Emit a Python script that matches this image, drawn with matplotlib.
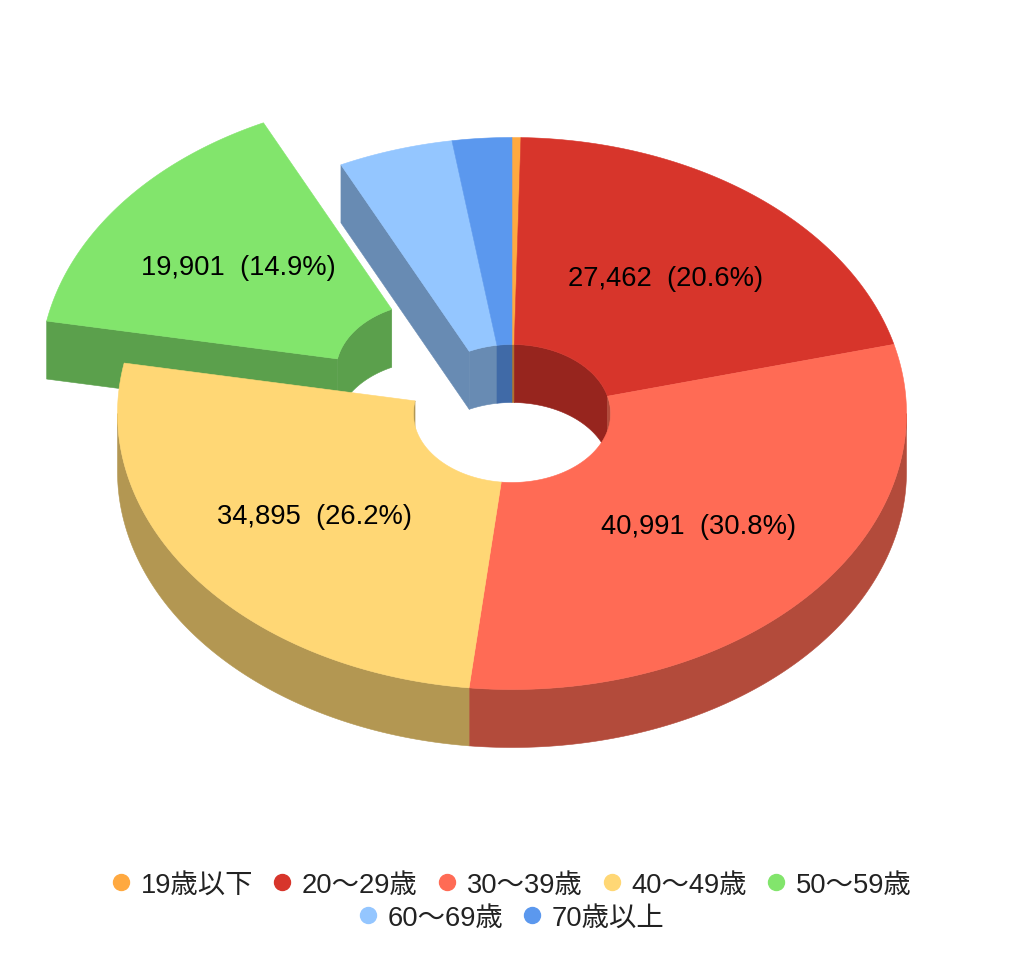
import numpy as np
import matplotlib as mpl
mpl.use('Agg')
import matplotlib.pyplot as plt
from matplotlib.lines import Line2D

plt.rcParams['font.family'] = ['Liberation Sans', 'Noto Sans CJK JP']

categories = ["19歳以下", "20〜29歳", "30〜39歳", "40〜49歳", "50〜59歳", "60〜69歳", "70歳以上"]
values = [480, 27462, 40991, 34895, 19901, 6270, 3240]
labels = [None, "27,462  (20.6%)", "40,991  (30.8%)", "34,895  (26.2%)", "19,901  (14.9%)", None, None]
colors = ["#FFA940", "#D7352B", "#FF6B55", "#FFD775", "#82E56C", "#94C6FF", "#5B98EE"]

# pie geometry, in pixels of the 1024x979 canvas
cx, cy = 512, 414.5
rx, ry = 394.5, 276
hole = 0.25
depth = 58
explode_dx, explode_dy = -77.5, -42
exploded = 4
shade = 0.7


def dark(c):
    return tuple(shade * v for v in mpl.colors.to_rgb(c))


def arc(t1, t2, r, dx=0, dy=0):
    t = np.radians(np.linspace(t1, t2, max(int(abs(t2 - t1)) * 2, 2)))
    return cx + dx + r * rx * np.sin(t), cy + dy - r * ry * np.cos(t)


def poly(ax, x, y, c):
    ax.fill(x, y, facecolor=c, edgecolor=c, linewidth=0.4)


def top(ax, t1, t2, c, dx=0, dy=0):
    xo, yo = arc(t1, t2, 1, dx, dy)
    xi, yi = arc(t2, t1, hole, dx, dy)
    poly(ax, np.r_[xo, xi], np.r_[yo, yi], c)


def side(ax, t1, t2, r, c, dx=0, dy=0):
    x, y = arc(t1, t2, r, dx, dy)
    poly(ax, np.r_[x, x[::-1]], np.r_[y, y[::-1] + depth], c)


def radial(ax, t, c, dx=0, dy=0):
    xo, yo = arc(t, t, 1, dx, dy)
    xi, yi = arc(t, t, hole, dx, dy)
    poly(ax, [xo[0], xi[0], xi[0], xo[0]], [yo[0], yi[0], yi[0] + depth, yo[0] + depth], c)


edges = np.r_[0, np.cumsum(values)] / np.sum(values) * 360

fig = plt.figure(figsize=(10.24, 9.79), dpi=100)
ax = fig.add_axes([0, 0, 1, 1])
ax.set_xlim(0, 1024)
ax.set_ylim(979, 0)
ax.axis('off')

# the pulled out slice goes first, the rest of the pie overlaps it
t1, t2 = edges[exploded], edges[exploded + 1]
radial(ax, t1, dark(colors[exploded]), explode_dx, explode_dy)
side(ax, t1, t2, hole, dark(colors[exploded]), explode_dx, explode_dy)
top(ax, t1, t2, colors[exploded], explode_dx, explode_dy)

# inner wall of the hole (back half only)
for i in range(len(values)):
    if i == exploded:
        continue
    t1, t2 = edges[i], edges[i + 1]
    a, b = max(t1, 0), min(t2, 90)
    if a < b:
        side(ax, a, b, hole, dark(colors[i]))
    a, b = max(t1, 270), min(t2, 360)
    if a < b:
        side(ax, a, b, hole, dark(colors[i]))

# cut face left open by the exploded slice
radial(ax, edges[exploded + 1], dark(colors[exploded + 1]))

# outer wall (front half only)
for i in range(len(values)):
    if i == exploded:
        continue
    a, b = max(edges[i], 90), min(edges[i + 1], 270)
    if a < b:
        side(ax, a, b, 1, dark(colors[i]))

for i in range(len(values)):
    if i != exploded:
        top(ax, edges[i], edges[i + 1], colors[i])

# slice labels at mid radius
r_lab = (1 + hole) / 2
for i, lab in enumerate(labels):
    if lab is None:
        continue
    mid = (edges[i] + edges[i + 1]) / 2
    dx, dy = (explode_dx, explode_dy) if i == exploded else (0, 0)
    x, y = arc(mid, mid, r_lab, dx, dy)
    ax.text(x[0], y[0], lab, fontsize=19.7, color='black', ha='center', va='center')


def legend_row(idx, y):
    handles = [Line2D([], [], linestyle='none', marker='o', markersize=11.5,
                      markerfacecolor=colors[i], markeredgecolor=colors[i],
                      label=categories[i]) for i in idx]
    leg = fig.legend(handles=handles, loc='center', bbox_to_anchor=(0.5, y), ncols=len(idx),
                     frameon=False, fontsize=19.7, labelcolor='#222222',
                     handlelength=0.6, handletextpad=0.42, columnspacing=0.77,
                     borderpad=0, borderaxespad=0)
    return leg


legend_row(range(5), 1 - 886 / 979)
legend_row(range(5, 7), 1 - 919 / 979)

plt.savefig('out.png', dpi=100)
